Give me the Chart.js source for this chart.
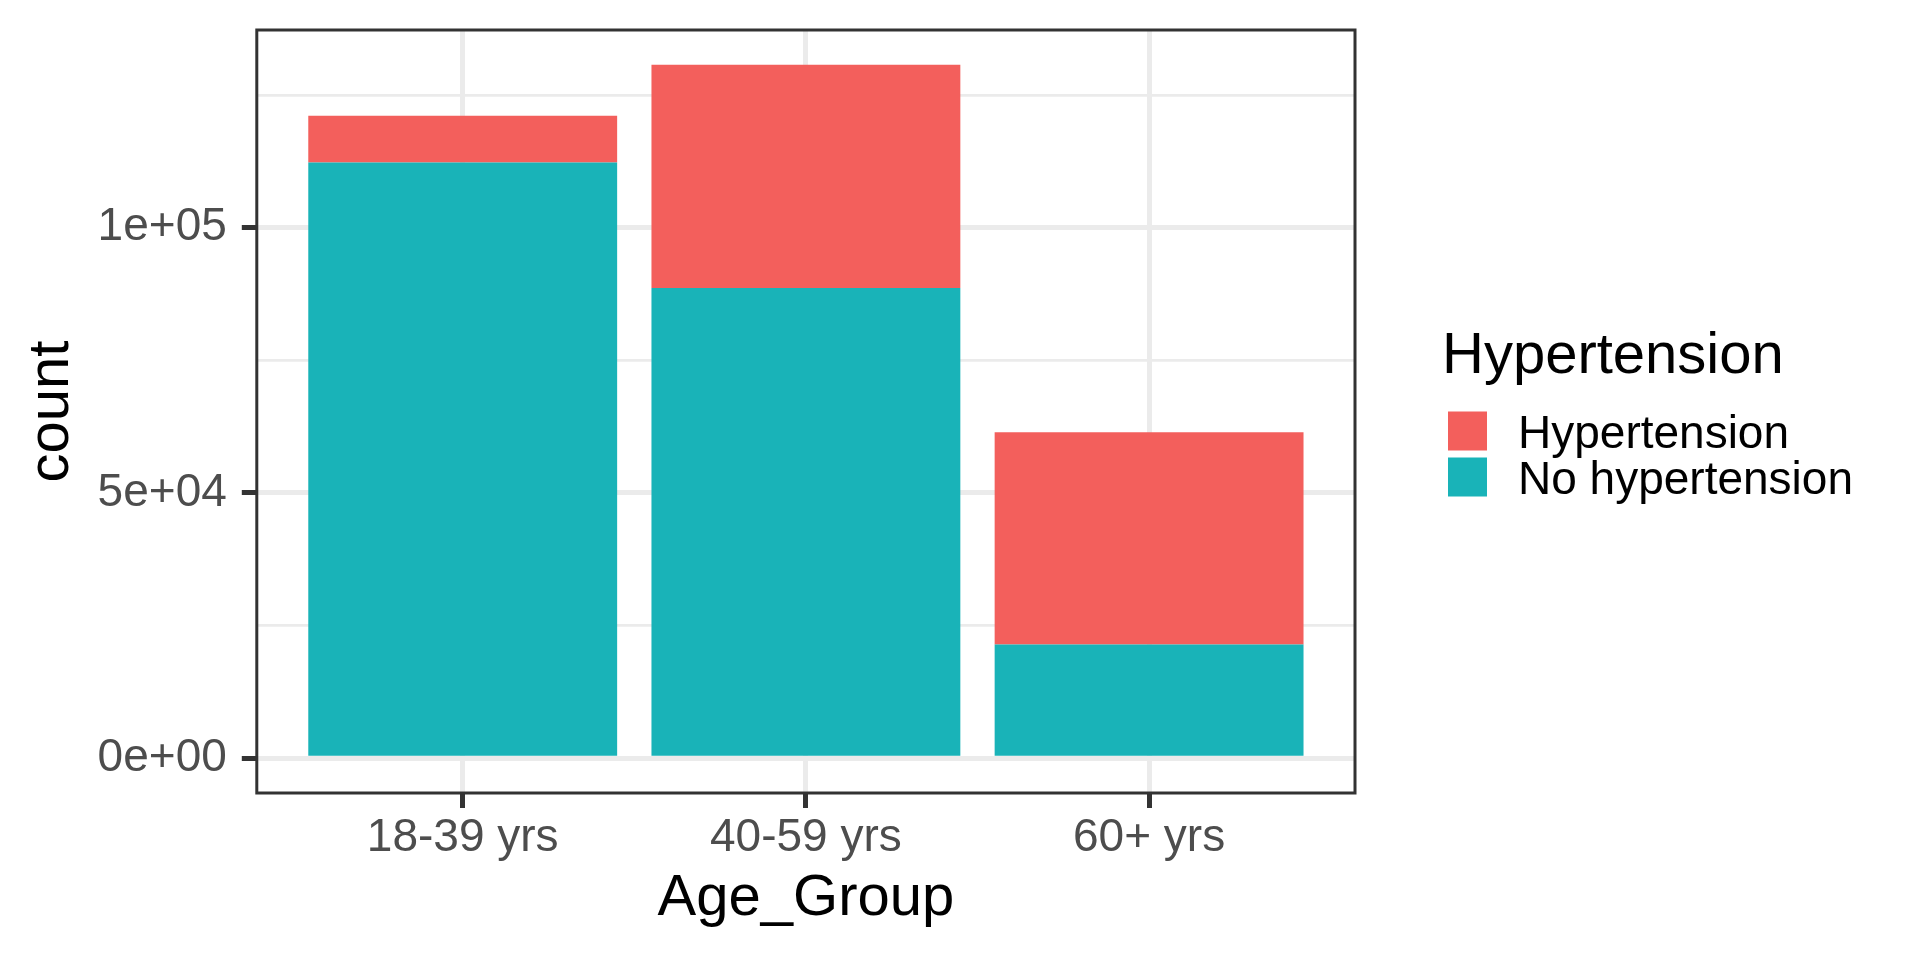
<!DOCTYPE html>
<html>
<head>
<meta charset="utf-8">
<title>Hypertension by age group</title>
<script src="https://cdn.jsdelivr.net/npm/chart.js@4/dist/chart.umd.min.js"></script>
<style>
  html, body { margin: 0; padding: 0; background: #ffffff; }
  canvas { display: block; }
</style>
</head>
<body>
<canvas id="ageChart" width="1920" height="960"></canvas>
<script>
// counts
const ageGroups = ['18-39 yrs', '40-59 yrs', '60+ yrs'];
const noHypertension = [112260, 88620, 21450];
const hypertension = [8810, 42080, 40000];

const yTickValues = [0, 25000, 50000, 75000, 100000, 125000];
const yTickLabels = ['0e+00', '', '5e+04', '', '1e+05', ''];

const legendTitle = 'Hypertension';

const FONT = '"Liberation Sans", Arial, Helvetica, sans-serif';
Chart.defaults.font.family = FONT;

// ggplot style: 5% padding on the count axis, 0.6 on the discrete one
const totals = noHypertension.map((v, i) => v + hypertension[i]);
const maxTotal = Math.max(...totals);

const isMajor = (ctx) => ctx.index !== undefined && yTickLabels[ctx.index] !== undefined && yTickLabels[ctx.index] !== '';

// panel border drawn over the bars
const panelBorder = {
    id: 'panelBorder',
    afterDatasetsDraw(chart) {
        const { ctx, chartArea: a } = chart;
        ctx.save();
        ctx.strokeStyle = '#333333';
        ctx.lineWidth = 3;
        ctx.strokeRect(a.left, a.top, a.right - a.left, a.bottom - a.top);
        ctx.restore();
    }
};

// legend in the ggplot layout (title, then reversed keys)
const ggLegend = {
    id: 'ggLegend',
    afterDraw(chart) {
        const { ctx, chartArea } = chart;
        const left = chartArea.right + 87;
        const mid = (chartArea.top + chartArea.bottom) / 2;
        ctx.save();
        ctx.textBaseline = 'alphabetic';
        ctx.textAlign = 'left';
        ctx.fillStyle = '#000000';
        ctx.font = '58px ' + FONT;
        ctx.fillText(legendTitle, left, mid - 39);
        ctx.font = '46px ' + FONT;
        const sets = chart.data.datasets.slice().reverse();
        sets.forEach((ds, i) => {
            const top = mid + i * 46;
            ctx.fillStyle = ds.backgroundColor;
            ctx.fillRect(left + 6, top, 39, 39);
            ctx.fillStyle = '#000000';
            ctx.fillText(ds.label, left + 76, top + 36.7);
        });
        ctx.restore();
    }
};

new Chart(document.getElementById('ageChart'), {
    type: 'bar',
    data: {
        datasets: [{
            label: 'No hypertension',
            data: noHypertension.map((v, i) => ({ x: i + 1, y: v })),
            backgroundColor: '#19B3B8',
            borderWidth: 0,
            barPercentage: 0.9,
            categoryPercentage: 1.0
        }, {
            label: 'Hypertension',
            data: hypertension.map((v, i) => ({ x: i + 1, y: v })),
            backgroundColor: '#F35F5C',
            borderWidth: 0,
            barPercentage: 0.9,
            categoryPercentage: 1.0
        }]
    },
    options: {
        responsive: false,
        devicePixelRatio: 1,
        animation: false,
        layout: {
            padding: { top: 30, right: 565, bottom: 18, left: 0 }
        },
        plugins: {
            legend: { display: false },
            tooltip: { enabled: false }
        },
        scales: {
            x: {
                type: 'linear',
                stacked: true,
                offset: false,
                bounds: 'data',
                min: 1 - 0.6,
                max: ageGroups.length + 0.6,
                afterBuildTicks: (scale) => {
                    scale.ticks = ageGroups.map((_, i) => ({ value: i + 1 }));
                },
                ticks: {
                    callback: (value, index) => ageGroups[index],
                    color: '#4D4D4D',
                    font: { size: 46, lineHeight: 0.9 },
                    padding: 10,
                    autoSkip: false,
                    maxRotation: 0
                },
                grid: {
                    offset: false,
                    color: '#EBEBEB',
                    lineWidth: 5,
                    tickColor: '#333333',
                    tickLength: 15,
                    tickWidth: 5
                },
                border: { display: false },
                title: {
                    display: true,
                    text: 'Age_Group',
                    color: '#000000',
                    font: { size: 58 },
                    padding: { top: -5, bottom: 8 }
                }
            },
            y: {
                stacked: true,
                bounds: 'data',
                min: -0.05 * maxTotal,
                max: 1.05 * maxTotal,
                afterBuildTicks: (scale) => {
                    scale.ticks = yTickValues.map(v => ({ value: v }));
                },
                ticks: {
                    callback: (value, index) => yTickLabels[index],
                    color: '#4D4D4D',
                    font: { size: 46, lineHeight: 0.6 },
                    padding: 15
                },
                grid: {
                    color: '#EBEBEB',
                    lineWidth: (ctx) => isMajor(ctx) ? 5 : 2.7,
                    tickColor: (ctx) => isMajor(ctx) ? '#333333' : 'rgba(0,0,0,0)',
                    tickLength: 15,
                    tickWidth: 5
                },
                border: { display: false },
                title: {
                    display: true,
                    text: 'count',
                    color: '#000000',
                    font: { size: 58 },
                    padding: { top: 17, bottom: -4 }
                }
            }
        }
    },
    plugins: [panelBorder, ggLegend]
});
</script>
</body>
</html>
